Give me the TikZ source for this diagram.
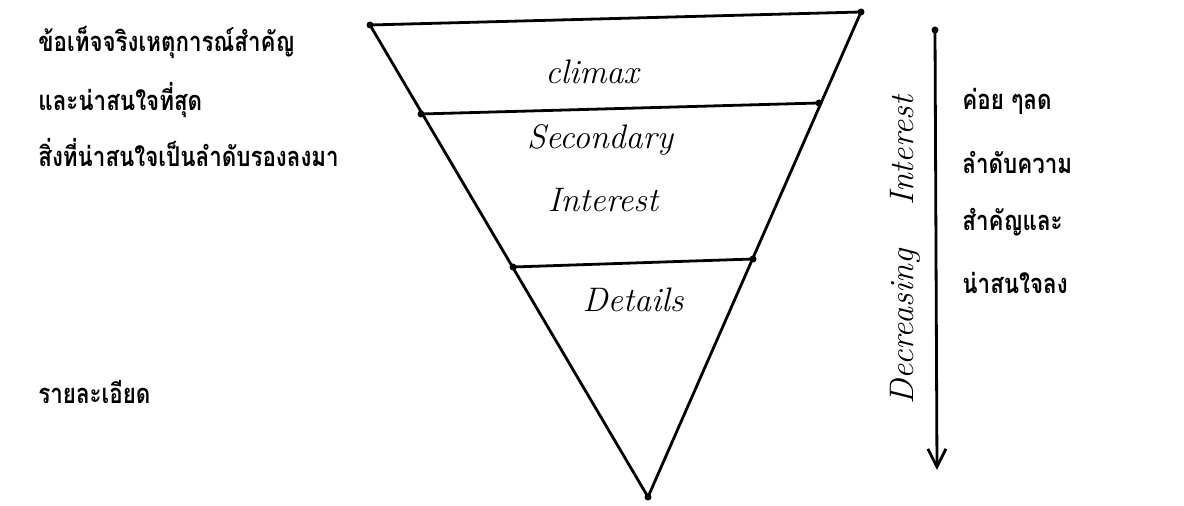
\documentclass[tikz,border=0pt]{standalone}
\usepackage{fontspec}
\usetikzlibrary{arrows.meta}
\newfontfamily\thai[Script=Thai]{Loma}
\newcommand{\narrowthai}[1]{\scalebox{0.86}[1.05]{#1}}
\begin{document}
\begin{tikzpicture}[x=0.5pt,y=-0.5pt,
  edge/.style={line width=1.4pt, line cap=round, line join=round},
  blob/.style={circle, fill=black, inner sep=0pt, minimum size=3.5pt},
  hand/.style={font=\fontsize{17}{19}\selectfont\itshape, inner sep=0pt},
  thaitxt/.style={font=\thai\bfseries\fontsize{13}{15}\selectfont, anchor=west, inner sep=0pt}]
\useasboundingbox (0,0) rectangle (1184,506);
% triangle corners and band ends
\coordinate (A) at (370,25);
\coordinate (B) at (861,12);
\coordinate (C) at (648,497);
\coordinate (L2) at (421,114);
\coordinate (R2) at (819,103);
\coordinate (L3) at (513,267);
\coordinate (R3) at (753,259);
\draw[edge] (A) -- (B) -- (C) -- cycle;
\draw[edge] (L2) -- (R2);
\draw[edge] (L3) -- (R3);
\foreach \p in {A,B,C,L2,R2,L3,R3} \node[blob] at (\p) {};
% labels inside
\node[hand] (climax) at (592,72) {climax};
\node[hand] (second) at (600,140) {Secondary};
\node[hand] (inter) at (603,200) {Interest};
\node[hand] (details) at (633,300) {Details};
% arrow
\coordinate (t) at (935,30);
\coordinate (b) at (937,470);
\node[blob] at (t) {};
\draw[edge, -{Straight Barb[length=9pt,width=9pt,line width=1.4pt]}] (t) -- (b);
\node[hand, rotate=90] (dec) at (905,250) {Decreasing\hspace{22pt}Interest};
% left texts
\node[thaitxt] (l1) at (38,42) {\narrowthai{ข้อเท็จจริงเหตุการณ์สำคัญ}};
\node[thaitxt] (l2) at (38,100) {\narrowthai{และน่าสนใจที่สุด}};
\node[thaitxt] (l3) at (38,153) {\narrowthai{สิ่งที่น่าสนใจเป็นลำดับรองลงมา}};
\node[thaitxt] (l4) at (38,392) {\narrowthai{รายละเอียด}};
% right texts
\node[thaitxt] (r1) at (962,101) {\narrowthai{ค่อย ๆลด}};
\node[thaitxt] (r2) at (962,162) {\narrowthai{ลำดับความ}};
\node[thaitxt] (r3) at (962,222) {\narrowthai{สำคัญและ}};
\node[thaitxt] (r4) at (962,283) {\narrowthai{น่าสนใจลง}};
\end{tikzpicture}
\end{document}
